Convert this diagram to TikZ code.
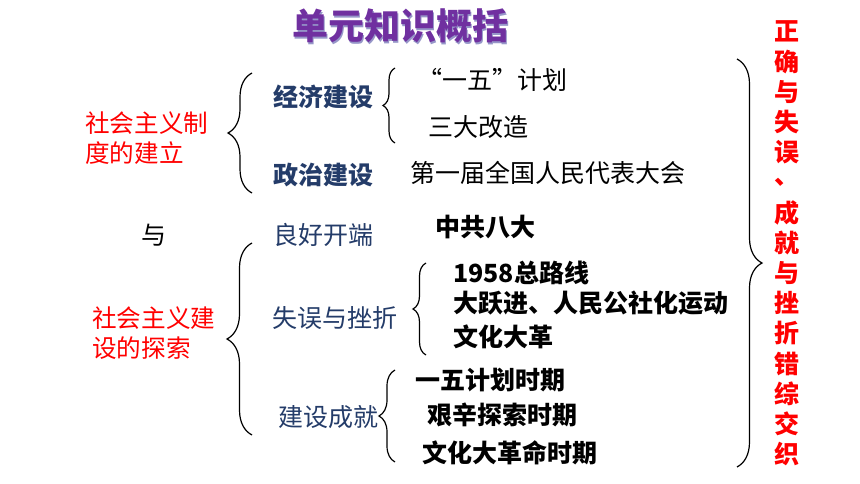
\documentclass[tikz,border=0pt]{standalone}
\usepackage{fontspec}
\newfontfamily\cjk{Noto Sans CJK SC}
\usetikzlibrary{decorations.pathreplacing}
\definecolor{navy}{RGB}{36,60,105}
\definecolor{titlepurple}{RGB}{112,48,160}
\definecolor{titleshade}{RGB}{150,150,200}
\tikzset{
  txt/.style={inner sep=0pt, anchor=west, font=\cjk\fontsize{25}{30}\selectfont},
  boldtxt/.style={txt, font=\cjk\bfseries\fontsize{25}{30}\selectfont},
  redtxt/.style={txt, text=red, align=left, font=\cjk\fontsize{24.6}{30}\selectfont},
  navytxt/.style={txt, text=navy},
  navybold/.style={boldtxt, text=navy},
  bracebig/.style={decorate, decoration={brace, amplitude=#1}, line width=1.2pt, black}
}
\begin{document}
\begin{tikzpicture}[x=1pt,y=-1pt]
\useasboundingbox (0,0) rectangle (860,484);
% title
\node[inner sep=0pt, text=titleshade, font=\cjk\bfseries\fontsize{36}{40}\selectfont] (titleshadow) at (401.5,27.5) {单元知识概括};
\node[inner sep=0pt, text=titlepurple, font=\cjk\bfseries\fontsize{36}{40}\selectfont] (title) at (400,26) {单元知识概括};
% left labels
\node[redtxt] (sys) at (85,138) {社会主义制\\度的建立};
\node[txt] (yu) at (141,235) {与};
\node[redtxt] (exp) at (92,333) {社会主义建\\设的探索};
% brace 1
\draw[bracebig=24] (252,193) -- (252,73);
\node[navybold] (econ) at (273,97) {经济建设};
\node[navybold] (pol) at (273,175) {政治建设};
% brace 2
\draw[bracebig=12] (395,143) -- (395,68);
\node[txt] (five) at (417,80) {“一五”计划};
\node[txt] (three) at (428,127) {三大改造};
\node[txt] (npc) at (410,173) {第一届全国人民代表大会};
\node[navytxt] (good) at (273,235) {良好开端};
\node[boldtxt] (eighth) at (435,227) {中共八大};
% brace 3
\draw[bracebig=25] (252,435) -- (252,243);
\node[navytxt] (err) at (272,318) {失误与挫折};
\node[navytxt] (ach) at (278,417) {建设成就};
% brace 4
\draw[bracebig=13] (426,355) -- (426,263);
\node[boldtxt] (line58) at (453,273) {1958总路线};
\node[boldtxt] (leap) at (453,303) {大跃进、人民公社化运动};
\node[boldtxt] (cr) at (453,337) {文化大革};
% brace 5
\draw[bracebig=16] (395,462) -- (395,370);
\node[boldtxt] (p1) at (415,380) {一五计划时期};
\node[boldtxt] (p2) at (427,415) {艰辛探索时期};
\node[boldtxt] (p3) at (422,453) {文化大革命时期};
% right brace
\draw[bracebig=25] (737,59) -- (737,467);
\node[inner sep=0pt, text=red, align=center, font=\cjk\bfseries\fontsize{25}{30.2}\selectfont] (summary) at (787,243.5)
 {正\\确\\与\\失\\误\\\raisebox{0.3em}{、}\\成\\就\\与\\挫\\折\\错\\综\\交\\织};
\end{tikzpicture}
\end{document}
